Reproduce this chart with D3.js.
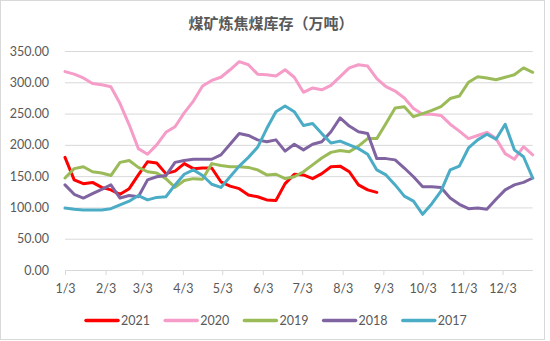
<!DOCTYPE html>
<html>
<head>
<meta charset="utf-8">
<script src="https://d3js.org/d3.v7.min.js"></script>
<style>
	body { margin: 0; background: #fff; }
	svg text { fill: #595959; }
</style>
</head>
<body>
<svg id="svg"></svg>
<script>
var width = 550, height = 341;
var plotLeft = 65, plotRight = 532.7, plotTop = 51, plotBottom = 270;

var svg = d3.select("#svg")
	.attr("width", width)
	.attr("height", height);

// weekly stock, 10k tonnes, one point per week from 1/3
var years = ["2021", "2020", "2019", "2018", "2017"];
var colors = ["#ff0000", "#f59cc8", "#9bbb59", "#8064a2", "#4bacc6"];
var tickLabels = ["1/3", "2/3", "3/3", "4/3", "5/3", "6/3", "7/3", "8/3", "9/3", "10/3", "11/3", "12/3"];
var yTicks = [0, 50, 100, 150, 200, 250, 300, 350];

var s2021 = [180, 144, 138, 140, 132, 128, 121, 130, 152, 173, 171, 154, 158, 170, 162, 163, 163, 141, 134, 130,
	120, 117, 112, 111, 138, 153, 152, 146, 154, 165, 166, 157, 136, 128, 124];
var s2020 = [317, 313, 307, 298, 296, 293, 266, 232, 194, 185, 200, 220, 229, 251, 270, 294, 303, 308, 320, 333,
	328, 313, 312, 310, 320, 308, 284, 291, 288, 295, 309, 323, 328, 326, 306, 293, 286, 275, 258, 249,
	249, 247, 233, 222, 210, 215, 220, 210, 186, 177, 197, 184];
var s2019 = [147, 162, 165, 157, 155, 151, 172, 175, 164, 157, 155, 146, 132, 143, 146, 145, 170, 167, 165, 165,
	164, 160, 152, 153, 146, 149, 157, 168, 179, 188, 191, 189, 198, 210, 210, 234, 259, 261, 245, 250,
	255, 261, 274, 278, 300, 309, 307, 304, 308, 312, 323, 316];
var s2018 = [136, 121, 115, 122, 129, 136, 115, 119, 117, 144, 149, 151, 172, 175, 177, 177, 177, 184, 201, 218,
	215, 208, 205, 208, 190, 201, 192, 201, 205, 221, 243, 230, 221, 218, 178, 178, 176, 163, 149, 133,
	133, 132, 115, 105, 98, 99, 97, 113, 128, 136, 140, 147];
var s2017 = [99, 97, 96, 96, 96, 98, 104, 110, 119, 112, 116, 117, 136, 153, 160, 151, 137, 132, 149, 166,
	180, 196, 226, 253, 262, 253, 231, 234, 218, 203, 206, 200, 194, 185, 160, 152, 136, 118, 110, 89,
	106, 126, 160, 166, 195, 208, 217, 209, 233, 192, 181, 147];

var series = [s2021, s2020, s2019, s2018, s2017];

var parseDay = d3.timeParse("%Y/%m/%d");
var firstWeek = parseDay("2021/1/3");
function weekDate(i) { return d3.timeDay.offset(firstWeek, i * 7); }

var x = d3.scaleTime()
	.domain([firstWeek, weekDate(51)])
	.range([plotLeft, plotRight]);

var y = d3.scaleLinear()
	.domain([0, 350])
	.range([plotBottom, plotTop]);

// chart frame
svg.append("rect")
	.attr("x", 0.5)
	.attr("y", 0.5)
	.attr("width", 544)
	.attr("height", 339)
	.attr("fill", "#fff")
	.attr("stroke", "#d9d9d9");

svg.append("text")
	.attr("x", 271)
	.attr("y", 29)
	.attr("text-anchor", "middle")
	.attr("font-family", "Noto Sans CJK SC")
	.attr("font-weight", "bold")
	.attr("font-size", 15)
	.text("煤矿炼焦煤库存（万吨）");

// gridlines + y labels
var yAxis = d3.axisLeft(y)
	.tickValues(yTicks)
	.tickSize(-(plotRight - plotLeft))
	.tickPadding(16)
	.tickFormat(d3.format(".2f"));

var gy = svg.append("g")
	.attr("transform", "translate(" + plotLeft + ",0)")
	.call(yAxis);
gy.select(".domain").remove();
gy.selectAll("line").attr("stroke", "#d9d9d9");
gy.selectAll("text")
	.attr("font-family", "Lato")
	.attr("font-size", 12.5);

var xAxis = d3.axisBottom(x)
	.tickValues(tickLabels.map(function(d) { return parseDay("2021/" + d.split("/")[0] + "/" + d.split("/")[1]); }))
	.tickSize(5)
	.tickPadding(9)
	.tickSizeOuter(0)
	.tickFormat(function(d, i) { return tickLabels[i]; });

var gx = svg.append("g")
	.attr("transform", "translate(0," + plotBottom + ")")
	.call(xAxis);
gx.select(".domain")
	.attr("stroke", "#d9d9d9")
	.attr("d", "M" + plotLeft + ",0.5H" + plotRight);
gx.selectAll("line").attr("stroke", "#d9d9d9");
gx.selectAll("text")
	.attr("font-family", "Lato")
	.attr("font-size", 12.5);

var line = d3.line()
	.x(function(d, i) { return x(weekDate(i)); })
	.y(function(d) { return y(d); });

svg.append("g")
	.selectAll("path")
	.data(series)
	.enter()
	.append("path")
	.attr("d", line)
	.attr("fill", "none")
	.attr("stroke", function(d, i) { return colors[i]; })
	.attr("stroke-width", 3)
	.attr("stroke-linejoin", "round")
	.attr("stroke-linecap", "round");

var legend = svg.append("g")
	.selectAll("g")
	.data(years)
	.enter()
	.append("g")
	.attr("transform", function(d, i) { return "translate(" + (86 + i * 79.2) + ",320.5)"; });

legend.append("line")
	.attr("x1", 0)
	.attr("x2", 32)
	.attr("stroke", function(d, i) { return colors[i]; })
	.attr("stroke-width", 3.5)
	.attr("stroke-linecap", "round");

legend.append("text")
	.attr("x", 35)
	.attr("dy", "0.35em")
	.attr("font-family", "Lato")
	.attr("font-size", 12.5)
	.text(function(d) { return d; });
</script>
</body>
</html>
